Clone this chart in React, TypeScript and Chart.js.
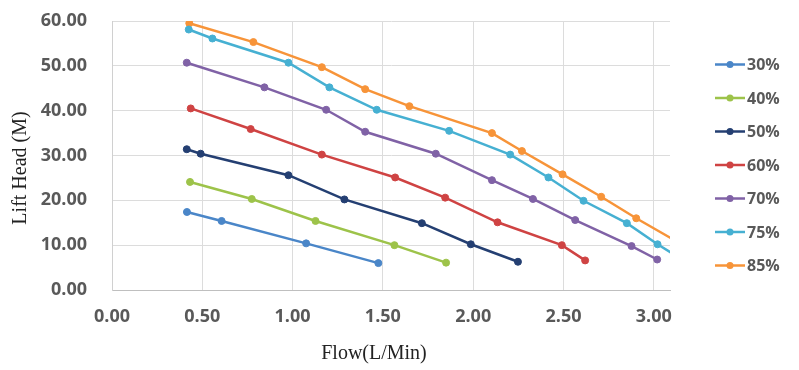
import React, { useEffect, useRef } from "react";
import { Chart, registerables } from "chart.js";

Chart.register(...registerables);

const seriesLabels = ["30%", "40%", "50%", "60%", "70%", "75%", "85%"];
const seriesColors = ["#4a86c8", "#9dc34a", "#243f72", "#cf4343", "#8062a6", "#46b0d2", "#f79439"];

const flow30 = [0.415, 0.607, 1.075, 1.475];
const head30 = [17.4, 15.4, 10.4, 6.0];
const flow40 = [0.432, 0.774, 1.127, 1.564, 1.85];
const head40 = [24.1, 20.3, 15.4, 10.0, 6.1];
const flow50 = [0.414, 0.491, 0.977, 1.287, 1.716, 1.987, 2.248];
const head50 = [31.4, 30.4, 25.6, 20.2, 14.9, 10.2, 6.3];
const flow60 = [0.436, 0.768, 1.162, 1.568, 1.845, 2.135, 2.491, 2.62];
const head60 = [40.5, 35.9, 30.2, 25.1, 20.6, 15.1, 10.0, 6.6];
const flow70 = [0.414, 0.844, 1.186, 1.402, 1.793, 2.104, 2.331, 2.565, 2.877, 3.019];
const head70 = [50.7, 45.2, 40.2, 35.3, 30.4, 24.5, 20.3, 15.6, 9.8, 6.8];
const flow75 = [0.425, 0.556, 0.977, 1.204, 1.466, 1.867, 2.205, 2.417, 2.611, 2.851, 3.021, 3.15];
const head75 = [58.1, 56.1, 50.7, 45.2, 40.2, 35.5, 30.2, 25.1, 19.9, 14.9, 10.2, 7.0];
const flow85 = [0.428, 0.783, 1.162, 1.402, 1.647, 2.104, 2.27, 2.495, 2.709, 2.903, 3.15];
const head85 = [59.5, 55.3, 49.7, 44.8, 41.0, 35.0, 31.0, 25.8, 20.8, 16.0, 10.3];

const flows = [flow30, flow40, flow50, flow60, flow70, flow75, flow85];
const heads = [head30, head40, head50, head60, head70, head75, head85];

const xTitle = "Flow(L/Min)";
const yTitle = "Lift Head (M)";

const xMin = 0;
const xMax = 3.09;
const xStep = 0.5;
const yMin = 0;
const yMax = 60;
const yStep = 10;

const tickColor = "#595959";
const tickFont = { family: "'Open Sans', sans-serif", size: 18, weight: "bold" as const };

const decorPlugin = {
  id: "decor",
  afterDraw(chart: any) {
    const ctx = chart.ctx as CanvasRenderingContext2D;
    ctx.save();
    // axis titles
    ctx.fillStyle = "#222";
    ctx.font = "20px 'Liberation Serif', 'Times New Roman', serif";
    ctx.textAlign = "center";
    ctx.textBaseline = "middle";
    ctx.fillText(xTitle, 374, 354);
    ctx.save();
    ctx.translate(20.5, 168);
    ctx.rotate(-Math.PI / 2);
    ctx.fillText(yTitle, 0, 0);
    ctx.restore();
    // legend
    seriesLabels.forEach((lab, i) => {
      const y = 64.5 + i * 33.5;
      const c = seriesColors[i];
      ctx.strokeStyle = c;
      ctx.lineWidth = 2.5;
      ctx.beginPath();
      ctx.moveTo(715, y);
      ctx.lineTo(745, y);
      ctx.stroke();
      ctx.fillStyle = c;
      ctx.beginPath();
      ctx.arc(730, y, 3.5, 0, Math.PI * 2);
      ctx.fill();
      ctx.fillStyle = tickColor;
      ctx.font = "bold 16px 'Open Sans', sans-serif";
      ctx.textAlign = "left";
      ctx.textBaseline = "middle";
      ctx.fillText(lab, 747, y + 1);
    });
    ctx.restore();
  },
};

export default function App() {
  const ref = useRef<HTMLCanvasElement | null>(null);

  useEffect(() => {
    if (!ref.current) return;
    const datasets = seriesLabels.map((lab, i) => ({
      label: lab,
      data: flows[i].map((x, j) => ({ x, y: heads[i][j] })),
      showLine: true,
      borderColor: seriesColors[i],
      backgroundColor: seriesColors[i],
      borderWidth: 2.5,
      pointRadius: 3.5,
      pointBorderWidth: 1,
      pointHoverRadius: 3.5,
    }));
    const chart = new Chart(ref.current, {
      type: "scatter",
      data: { datasets },
      options: {
        animation: false,
        responsive: true,
        maintainAspectRatio: false,
        layout: { padding: { top: 21, right: 129, left: 0, bottom: 0 } },
        plugins: {
          legend: { display: false },
          tooltip: { enabled: false },
        },
        scales: {
          x: {
            type: "linear",
            min: xMin,
            max: xMax,
            afterFit: (s: any) => {
              s.height = 80;
            },
            ticks: {
              stepSize: xStep,
              includeBounds: false,
              padding: 16,
              color: tickColor,
              font: tickFont,
              maxRotation: 0,
              callback: (v: any) => Number(v).toFixed(2),
            },
            grid: { color: "#dcdcdc", lineWidth: 1, drawTicks: false },
            border: { display: true, color: "#bfbfbf", width: 1 },
          },
          y: {
            type: "linear",
            min: yMin,
            max: yMax,
            afterFit: (s: any) => {
              s.width = 112;
            },
            ticks: {
              stepSize: yStep,
              padding: 0,
              color: tickColor,
              font: tickFont,
              callback: (v: any) => Number(v).toFixed(2),
            },
            grid: {
              color: "#dcdcdc",
              lineWidth: 1,
              drawTicks: true,
              tickLength: 25,
              tickColor: "rgba(0,0,0,0)",
            },
            border: { display: true, color: "#d0d0d0", width: 1 },
          },
        },
      },
      plugins: [decorPlugin],
    });
    return () => chart.destroy();
  }, []);

  return (
    <div style={{ position: "absolute", left: 0, top: 0, width: 799, height: 370, background: "#fff" }}>
      <canvas ref={ref} />
    </div>
  );
}
